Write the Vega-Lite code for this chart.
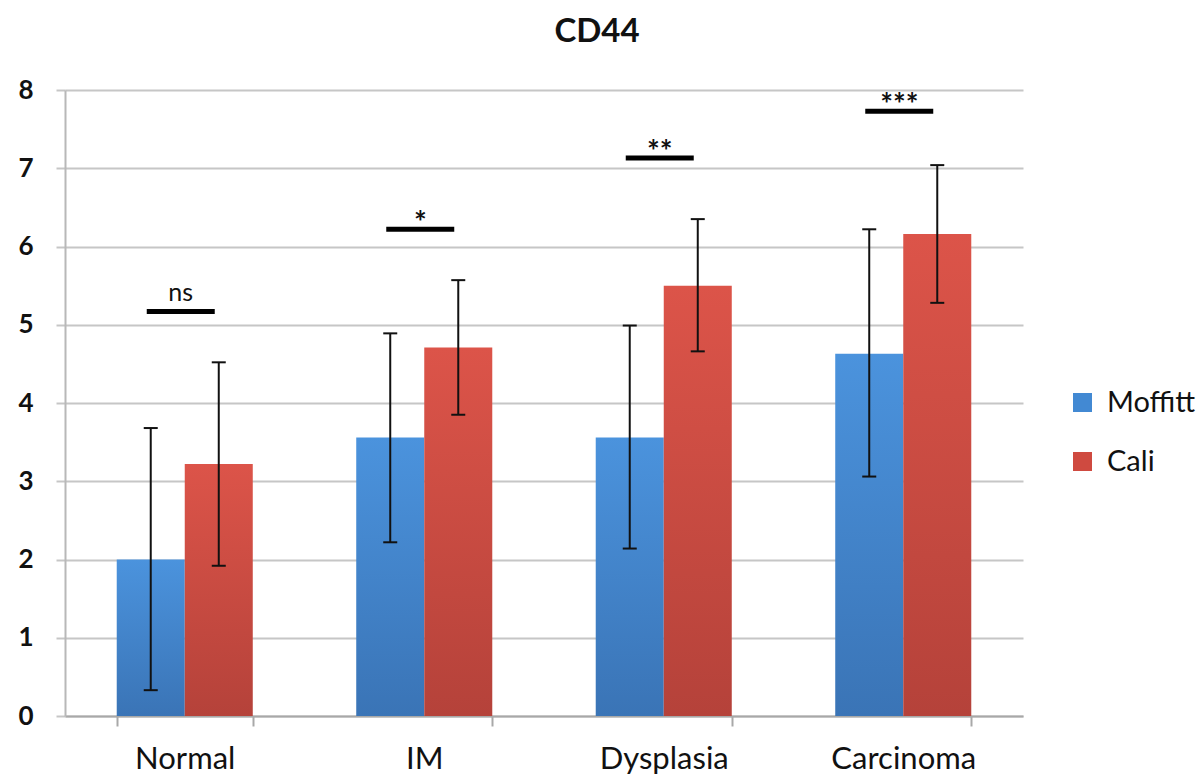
{
  "$schema": "https://vega.github.io/schema/vega-lite/v6.json",
  "autosize": {"type": "none"},
  "padding": {"left": 65, "top": 90, "right": 178, "bottom": 58},
  "width": 958,
  "height": 626,
  "background": "white",
  "config": {
    "font": "Lato",
    "view": {"stroke": null}
  },
  "title": {
    "text": "CD44",
    "fontSize": 33,
    "fontWeight": "bold",
    "font": "Lato",
    "color": "#111111",
    "anchor": "middle",
    "dx": 53,
    "offset": 28
  },
  "datasets": {
    "bars": [
      {"cat": "Normal", "series": "Moffitt", "value": 2.0, "lo": 0.33, "hi": 3.68},
      {"cat": "Normal", "series": "Cali", "value": 3.22, "lo": 1.92, "hi": 4.52},
      {"cat": "IM", "series": "Moffitt", "value": 3.56, "lo": 2.22, "hi": 4.89},
      {"cat": "IM", "series": "Cali", "value": 4.71, "lo": 3.85, "hi": 5.57},
      {"cat": "Dysplasia", "series": "Moffitt", "value": 3.56, "lo": 2.14, "hi": 4.99},
      {"cat": "Dysplasia", "series": "Cali", "value": 5.5, "lo": 4.66, "hi": 6.35},
      {"cat": "Carcinoma", "series": "Moffitt", "value": 4.63, "lo": 3.06, "hi": 6.22},
      {"cat": "Carcinoma", "series": "Cali", "value": 6.16, "lo": 5.28, "hi": 7.04}
    ],
    "sig": [
      {"cat": "Normal", "y": 5.17, "label": "ns"},
      {"cat": "IM", "y": 6.22, "label": "*"},
      {"cat": "Dysplasia", "y": 7.13, "label": "**"},
      {"cat": "Carcinoma", "y": 7.73, "label": "***"}
    ]
  },
  "encoding": {
    "x": {
      "field": "cat",
      "type": "nominal",
      "sort": ["Normal", "IM", "Dysplasia", "Carcinoma"],
      "scale": {"domain": ["Normal", "IM", "Dysplasia", "Carcinoma"], "paddingInner": 0.432, "paddingOuter": 0.216},
      "axis": {
        "title": null,
        "labelAngle": 0,
        "labelFontSize": 31,
        "labelColor": "#111111",
        "labelPadding": 18,
        "tickBand": "extent",
        "tickSize": 10,
        "tickColor": "#a8a8a8",
        "tickWidth": 2,
        "domainColor": "#a8a8a8",
        "domainWidth": 2,
        "grid": false
      }
    }
  },
  "layer": [
    {
      "data": {"name": "bars"},
      "mark": {"type": "bar", "opacity": 0},
      "encoding": {
        "xOffset": {"field": "series", "type": "nominal", "scale": {"domain": ["Moffitt", "Cali"], "paddingInner": 0, "paddingOuter": 0}},
        "y": {
          "field": "value",
          "type": "quantitative",
          "scale": {"domain": [0, 8], "nice": false},
          "axis": {
            "title": null,
            "tickCount": 8,
            "labelFontSize": 26,
            "labelFontWeight": "bold",
            "labelColor": "#111111",
            "labelPadding": 23,
            "grid": true,
            "gridColor": "#c6c6c6",
            "gridWidth": 2,
            "tickSize": 9,
            "tickColor": "#c6c6c6",
            "tickWidth": 2,
            "domainColor": "#b8b8b8",
            "domainWidth": 2
          }
        },
        "color": {
          "field": "series",
          "type": "nominal",
          "scale": {"domain": ["Moffitt", "Cali"], "range": ["#4289d3", "#cf4a40"]},
          "legend": {
            "title": null,
            "orient": "none",
            "legendX": 1003,
            "legendY": 298,
            "padding": 0,
            "symbolType": "square",
            "symbolSize": 361,
            "symbolOpacity": 1,
            "symbolStrokeWidth": 0,
            "labelFontSize": 29,
            "labelColor": "#111111",
            "labelOffset": 10,
            "rowPadding": 29
          }
        }
      }
    },
    {
      "data": {"name": "bars"},
      "transform": [{"filter": "datum.series === 'Moffitt'"}],
      "mark": {
        "type": "bar",
        "fill": {"gradient": "linear", "x1": 0, "y1": 0, "x2": 0, "y2": 1,
          "stops": [{"offset": 0, "color": "#4b93dd"}, {"offset": 1, "color": "#3a74b6"}]}
      },
      "encoding": {
        "xOffset": {"field": "series", "type": "nominal"},
        "y": {"field": "value", "type": "quantitative"}
      }
    },
    {
      "data": {"name": "bars"},
      "transform": [{"filter": "datum.series === 'Cali'"}],
      "mark": {
        "type": "bar",
        "fill": {"gradient": "linear", "x1": 0, "y1": 0, "x2": 0, "y2": 1,
          "stops": [{"offset": 0, "color": "#dc5449"}, {"offset": 1, "color": "#b5423a"}]}
      },
      "encoding": {
        "xOffset": {"field": "series", "type": "nominal"},
        "y": {"field": "value", "type": "quantitative"}
      }
    },
    {
      "data": {"name": "bars"},
      "mark": {"type": "rule", "color": "#111111", "strokeWidth": 2},
      "encoding": {
        "xOffset": {"field": "series", "type": "nominal"},
        "y": {"field": "lo", "type": "quantitative"},
        "y2": {"field": "hi"}
      }
    },
    {
      "data": {"name": "bars"},
      "mark": {"type": "tick", "color": "#111111", "opacity": 1, "size": 14, "thickness": 2, "orient": "horizontal"},
      "encoding": {
        "xOffset": {"field": "series", "type": "nominal"},
        "y": {"field": "lo", "type": "quantitative"}
      }
    },
    {
      "data": {"name": "bars"},
      "mark": {"type": "tick", "color": "#111111", "opacity": 1, "size": 14, "thickness": 2, "orient": "horizontal"},
      "encoding": {
        "xOffset": {"field": "series", "type": "nominal"},
        "y": {"field": "hi", "type": "quantitative"}
      }
    },
    {
      "data": {"name": "sig"},
      "mark": {"type": "tick", "color": "#000000", "opacity": 1, "size": 68, "thickness": 5, "orient": "horizontal", "xOffset": -4},
      "encoding": {
        "y": {"field": "y", "type": "quantitative"}
      }
    },
    {
      "data": {"name": "sig"},
      "transform": [{"filter": "datum.label === 'ns'"}],
      "mark": {"type": "text", "fontSize": 25, "color": "#111111", "dy": -10, "dx": -4, "baseline": "alphabetic"},
      "encoding": {
        "y": {"field": "y", "type": "quantitative"},
        "text": {"field": "label"}
      }
    },
    {
      "data": {"name": "sig"},
      "transform": [{"filter": "datum.label !== 'ns'"}],
      "mark": {"type": "text", "fontSize": 30, "fontWeight": "bold", "color": "#111111", "dy": 4, "dx": -4, "baseline": "alphabetic"},
      "encoding": {
        "y": {"field": "y", "type": "quantitative"},
        "text": {"field": "label"}
      }
    }
  ]
}
